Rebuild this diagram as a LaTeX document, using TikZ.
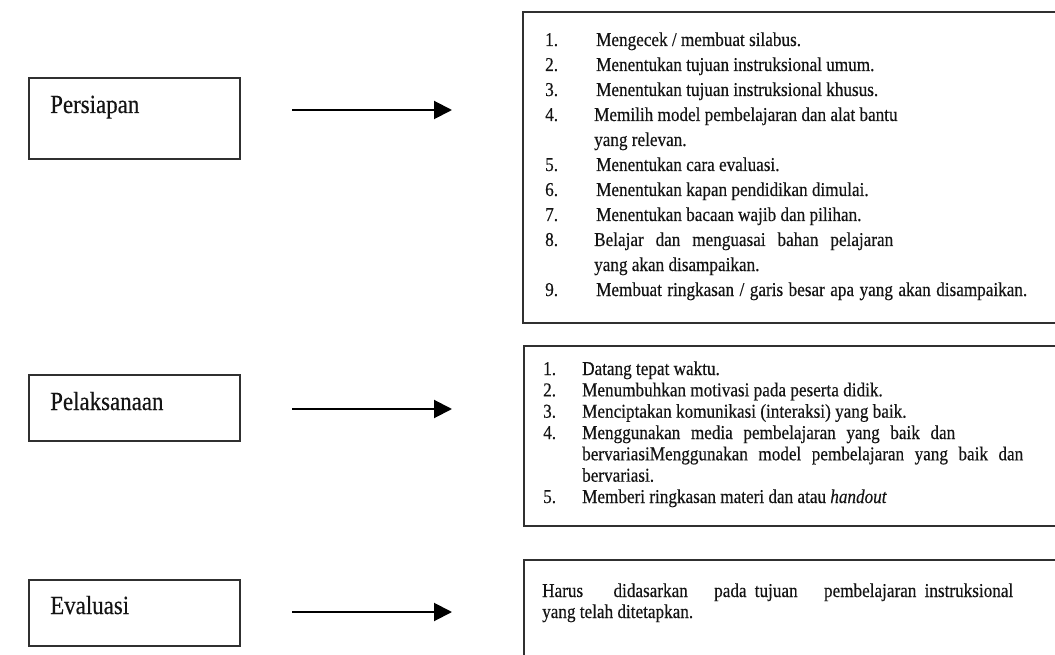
\documentclass[tikz,border=0pt]{standalone}
\usepackage{fontspec}
\setmainfont{Liberation Serif}[FakeStretch=0.875,FakeBold=0.35]
\usetikzlibrary{arrows.meta}
\definecolor{inkc}{HTML}{141414}
\definecolor{framec}{HTML}{303030}
\tikzset{
  boxframe/.style={draw=framec, line width=2pt, fill=none, inner sep=0pt, anchor=north west},
  lbl/.style={anchor=base west, inner sep=0pt, text=inkc, font=\fontsize{26.2}{30}\selectfont},
  itm/.style={anchor=base west, inner sep=0pt, text=inkc, font=\fontsize{19.6}{23}\selectfont},
  flowarrow/.style={draw=black, line width=2pt, -{Triangle[length=18pt,width=18pt]}}
}
\begin{document}
\begin{tikzpicture}[x=1pt,y=-1pt]
\useasboundingbox (0,0) rectangle (1055,655);
\fill[white] (0,0) rectangle (1055,655);
\clip (0,0) rectangle (1055,655);

% left boxes
\node[boxframe, minimum width=211pt, minimum height=81pt] (bp) at (28,77) {};
\node[boxframe, minimum width=211pt, minimum height=66pt] (bl) at (28,374) {};
\node[boxframe, minimum width=211pt, minimum height=66pt] (be) at (28,579) {};
\node[lbl] (tp) at (50,113) {Persiapan};
\node[lbl] (tl) at (50,410) {Pelaksanaan};
\node[lbl] (te) at (50,614) {Evaluasi};

% arrows
\coordinate (a1s) at (292,110); \coordinate (a1e) at (452,110);
\coordinate (a2s) at (292,409); \coordinate (a2e) at (452,409);
\coordinate (a3s) at (292,612); \coordinate (a3e) at (452,612);
\draw[flowarrow] (a1s) -- (a1e);
\draw[flowarrow] (a2s) -- (a2e);
\draw[flowarrow] (a3s) -- (a3e);

% right boxes
\node[boxframe, minimum width=560pt, minimum height=311pt] (r1) at (522,11) {};
\node[boxframe, minimum width=560pt, minimum height=180pt] (r2) at (523,345) {};
\node[boxframe, minimum width=560pt, minimum height=120pt] (r3) at (523,559) {};

% box 1 list
\node[itm] (n1) at (545,46) {1.};  \node[itm] (s1) at (596,46) {Mengecek / membuat silabus.};
\node[itm] (n2) at (545,71) {2.};  \node[itm] (s2) at (596,71) {Menentukan tujuan instruksional umum.};
\node[itm] (n3) at (545,96) {3.};  \node[itm] (s3) at (596,96) {Menentukan tujuan instruksional khusus.};
\node[itm] (n4) at (545,121) {4.}; \node[itm] (s4) at (594,121) {Memilih model pembelajaran dan alat bantu};
\node[itm] (s4b) at (594,146) {yang relevan.};
\node[itm] (n5) at (545,171) {5.}; \node[itm] (s5) at (596,171) {Menentukan cara evaluasi.};
\node[itm] (n6) at (545,196) {6.}; \node[itm] (s6) at (596,196) {Menentukan kapan pendidikan dimulai.};
\node[itm] (n7) at (545,221) {7.}; \node[itm] (s7) at (596,221) {Menentukan bacaan wajib dan pilihan.};
\node[itm] (n8) at (545,246) {8.}; \node[itm] (s8) at (594,246) {\makebox[299pt][s]{Belajar dan menguasai bahan pelajaran}};
\node[itm] (s8b) at (594,271) {yang akan disampaikan.};
\node[itm] (n9) at (545,296) {9.}; \node[itm] (s9) at (596,296) {\makebox[431pt][s]{Membuat ringkasan / garis besar apa yang akan disampaikan.}};

% box 2 list
\node[itm] (m1) at (543,375) {1.};    \node[itm] (u1) at (582,375) {Datang tepat waktu.};
\node[itm] (m2) at (543,396.3) {2.};  \node[itm] (u2) at (582,396.3) {Menumbuhkan motivasi pada peserta didik.};
\node[itm] (m3) at (543,417.7) {3.};  \node[itm] (u3) at (582,417.7) {Menciptakan komunikasi (interaksi) yang baik.};
\node[itm] (m4) at (543,439) {4.};    \node[itm] (u4) at (582,439) {\makebox[373pt][s]{Menggunakan media pembelajaran yang baik dan}};
\node[itm] (u4b) at (582,460.3) {\makebox[441pt][s]{bervariasiMenggunakan model pembelajaran yang baik dan}};
\node[itm] (u4c) at (582,481.7) {bervariasi.};
\node[itm] (m5) at (543,503) {5.};    \node[itm] (u5) at (582,503) {Memberi ringkasan materi dan atau \textit{handout}};

% box 3 text
\node[itm] (h1) at (542,597) {\makebox[471pt][s]{Harus \hspace{14pt} didasarkan \hspace{10pt} pada tujuan \hspace{10pt} pembelajaran instruksional}};
\node[itm] (h2) at (542,618) {yang telah ditetapkan.};
\end{tikzpicture}
\end{document}
